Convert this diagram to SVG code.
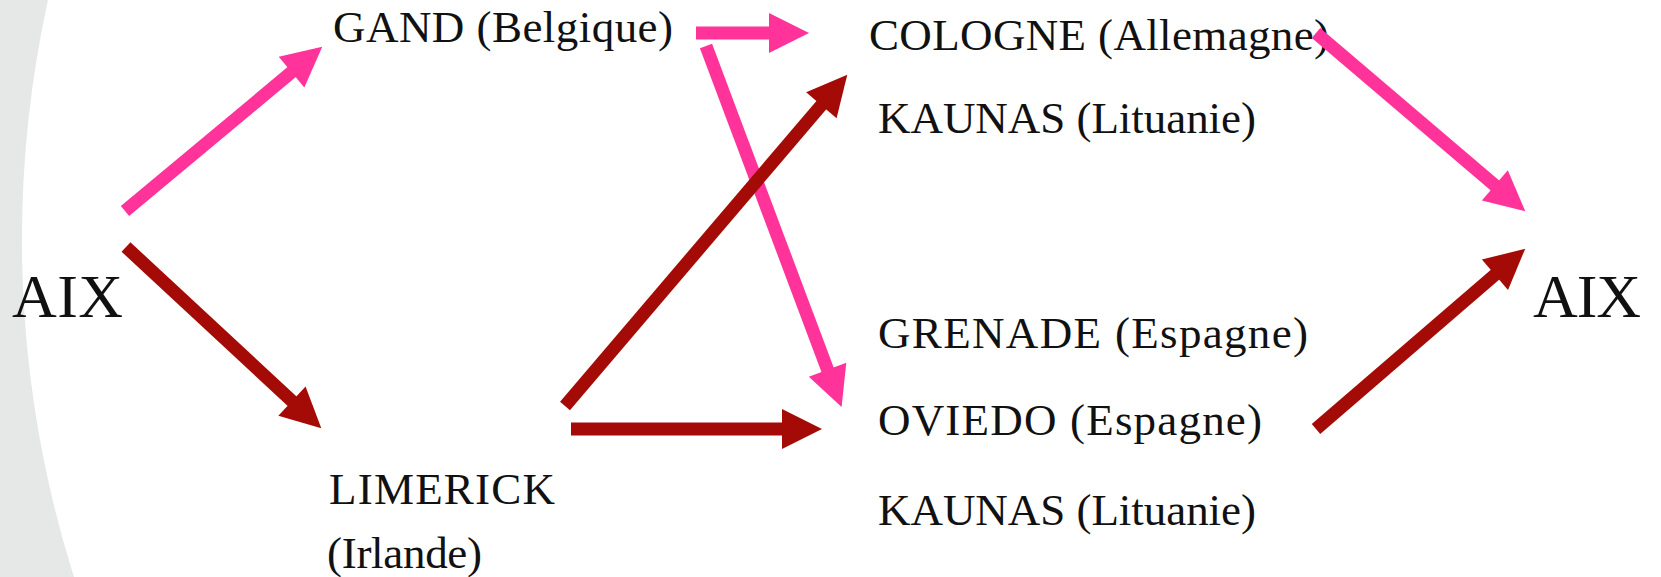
<svg xmlns="http://www.w3.org/2000/svg" width="1661" height="577" viewBox="0 0 1661 577">
<style>
.t{font-family:"Liberation Serif","Times New Roman",serif;fill:#111;font-size:45px}
.big{font-size:62px}
.p{stroke:#FF3399;stroke-width:13;fill:none;marker-end:url(#ap)}
.r{stroke:#A50B06;stroke-width:13;fill:none;marker-end:url(#ar)}
</style>
<defs>
<marker id="ap" markerUnits="userSpaceOnUse" markerWidth="44" markerHeight="44" viewBox="0 -22 44 44" refX="1" refY="0" orient="auto" overflow="visible"><path d="M0,-20 L40,0 L0,20 Z" fill="#FF3399"/></marker>
<marker id="ar" markerUnits="userSpaceOnUse" markerWidth="44" markerHeight="44" viewBox="0 -22 44 44" refX="1" refY="0" orient="auto" overflow="visible"><path d="M0,-20 L40,0 L0,20 Z" fill="#A50B06"/></marker>
</defs>
<rect width="1661" height="577" fill="#fff"/>
<path d="M0,0 L48,0 A1119,1119 0 0 0 74,577 L0,577 Z" fill="#E6E7E7"/>
<g id="aix-left"><text class="t big" x="12" y="317" textLength="111">AIX</text></g>
<g id="gand"><text class="t" x="333" y="42" textLength="340">GAND (Belgique)</text></g>
<g id="limerick"><text class="t" x="329" y="504" textLength="226">LIMERICK</text><text class="t" x="327" y="568" textLength="155">(Irlande)</text></g>
<g id="cologne"><text class="t" x="869" y="50" textLength="460">COLOGNE (Allemagne)</text></g>
<g id="kaunas1"><text class="t" x="878" y="133" textLength="378">KAUNAS (Lituanie)</text></g>
<g id="grenade"><text class="t" x="878" y="348" textLength="430">GRENADE (Espagne)</text></g>
<g id="oviedo"><text class="t" x="878" y="435" textLength="384">OVIEDO (Espagne)</text></g>
<g id="kaunas2"><text class="t" x="878" y="525" textLength="378">KAUNAS (Lituanie)</text></g>
<g id="aix-right"><text class="t big" x="1533" y="317" textLength="108">AIX</text></g>
<g id="connectors">
<path class="p" d="M125,211 L292.3,71.6"/>
<path class="r" d="M126,247 L292.7,401.8"/>
<path class="p" d="M696,33 L770,33"/>
<path class="p" d="M706,46 L827.9,370.6"/>
<path class="r" d="M565,406 L822,104.4"/>
<path class="r" d="M571,429 L783,429"/>
<path class="p" d="M1316,33 L1495.6,186"/>
<path class="r" d="M1316,429 L1495.7,274.1"/>
</g>
</svg>
